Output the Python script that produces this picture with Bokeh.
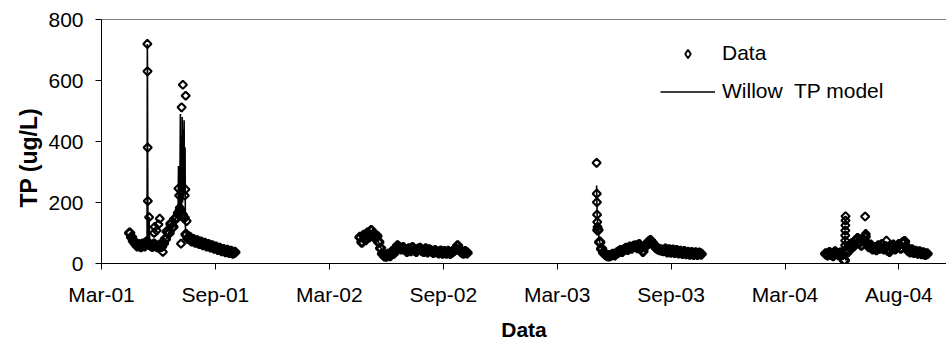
import numpy as np
import pandas as pd
from bokeh.plotting import figure
from bokeh.models import (FixedTicker, DatetimeTickFormatter, Range1d, Span, Title,
                          Legend, LegendItem, ColumnDataSource)
from bokeh.embed import file_html
from bokeh.resources import INLINE

# ---------------- axis settings ----------------
tick_dates = ["2001-03-05", "2001-09-03", "2002-03-04", "2002-09-02",
              "2003-03-03", "2003-09-01", "2004-03-01", "2004-08-30"]
tick_labels = ["Mar-01", "Sep-01", "Mar-02", "Sep-02",
               "Mar-03", "Sep-03", "Mar-04", "Aug-04"]
y_ticks = [0, 200, 400, 600, 800]
x_start, x_end = "2001-03-05", "2004-11-14"
y_start, y_end = 0, 800

# ---------------- measured data (TP, ug/L), sampled every 3 days ----------------
data_2001_start = "2001-04-19"
data_2001 = [100, 86, 74, 66, 58, 62, 55, 64, 58, 70, 66, 60, 56, 64, 58,
             54, 60, 56, 66, 80, 105, 100, 130, 120, 145, 150, 165, 175, 160, 150,
             95, 82, 86, 74, 78, 70, 74, 66, 70, 62, 66, 58, 62, 54, 58,
             50, 54, 46, 50, 42, 46, 39, 43, 36, 40, 34, 37]
data_2002_start = "2002-04-22"
data_2002 = [86, 70, 92, 78, 100, 88, 108, 95, 85, 90, 70, 50, 32, 25, 24,
             30, 26, 38, 34, 50, 58, 52, 48, 52, 46, 40, 48, 42, 52, 44,
             40, 47, 50, 42, 40, 48, 38, 45, 41, 36, 42, 38, 35, 41, 34,
             39, 34, 40, 33, 37, 42, 48, 58, 45, 38, 34, 39, 35]
data_2003_start = "2003-05-07"
data_2003 = [110, 70, 48, 36, 30, 26, 25, 27, 30, 28, 34, 38, 42, 40, 46,
             50, 46, 54, 50, 56, 58, 52, 62, 52, 40, 55, 62, 70, 75, 68,
             60, 52, 48, 45, 44, 42, 47, 38, 45, 37, 44, 36, 42, 35, 40,
             33, 39, 32, 37, 31, 36, 30, 35, 30, 34, 31]
data_2004_start = "2004-05-05"
data_2004 = [32, 28, 36, 30, 26, 38, 33, 28, 35, 30, 10, 35, 40, 55, 65,
             58, 75, 82, 70, 60, 78, 88, 65, 55, 60, 48, 52, 45, 58, 50,
             62, 48, 55, 44, 40, 52, 60, 48, 56, 62, 50, 68, 72, 55, 42,
             38, 45, 36, 40, 34, 38, 32, 35, 30, 32]

# storm-event samples
storm_dates = ["2001-05-17 06:00", "2001-05-17 12:00", "2001-05-17 18:00", "2001-05-18 00:00",
               "2001-05-20 00:00", "2001-05-28 00:00", "2001-05-29 00:00", "2001-06-01 00:00",
               "2001-06-04 00:00", "2001-06-06 00:00", "2001-06-11 00:00", "2001-07-06 00:00",
               "2001-07-07 00:00", "2001-07-08 00:00", "2001-07-10 00:00", "2001-07-11 00:00",
               "2001-07-13 00:00", "2001-07-16 00:00", "2001-07-17 00:00", "2001-07-17 12:00",
               "2001-07-19 00:00",
               "2003-05-05 00:00", "2003-05-05 06:00", "2003-05-05 12:00", "2003-05-05 18:00",
               "2003-05-06 00:00", "2003-05-06 12:00",
               "2004-06-05 00:00", "2004-06-05 03:00", "2004-06-05 06:00", "2004-06-05 09:00",
               "2004-06-05 12:00", "2004-06-05 15:00", "2004-06-05 18:00",
               "2004-07-07 00:00", "2004-07-08 00:00", "2004-08-10 00:00"]
storm_values = [720, 630, 380, 205,
                152, 100, 120, 108,
                128, 147, 38, 246,
                223, 183, 65, 512,
                586, 223, 243, 550,
                139,
                330, 229, 201, 160,
                136, 120,
                60, 75, 92, 108,
                125, 141, 155,
                154, 97, 75]

# ---------------- Willow TP model ----------------
model_2001_dates = ["2001-04-19 00:00", "2001-04-25 00:00", "2001-05-01 00:00", "2001-05-07 00:00",
                    "2001-05-13 00:00", "2001-05-16 18:00", "2001-05-17 06:00", "2001-05-17 12:00",
                    "2001-05-17 18:00", "2001-05-18 00:00", "2001-05-18 12:00", "2001-05-20 00:00",
                    "2001-05-21 00:00", "2001-05-25 00:00", "2001-05-31 00:00", "2001-06-06 00:00",
                    "2001-06-12 00:00", "2001-06-18 00:00", "2001-06-24 00:00", "2001-06-30 00:00",
                    "2001-07-04 00:00", "2001-07-05 12:00", "2001-07-06 00:00", "2001-07-06 12:00",
                    "2001-07-07 12:00", "2001-07-08 00:00", "2001-07-09 00:00", "2001-07-09 12:00",
                    "2001-07-10 12:00", "2001-07-11 00:00", "2001-07-12 00:00", "2001-07-12 12:00",
                    "2001-07-13 12:00", "2001-07-14 00:00", "2001-07-15 00:00", "2001-07-15 12:00",
                    "2001-07-16 12:00", "2001-07-17 00:00", "2001-07-18 00:00",
                    "2001-07-24 00:00", "2001-07-30 00:00",
                    "2001-08-05 00:00", "2001-08-11 00:00", "2001-08-17 00:00", "2001-08-23 00:00",
                    "2001-08-29 00:00", "2001-09-04 00:00", "2001-09-10 00:00", "2001-09-16 00:00",
                    "2001-09-22 00:00", "2001-09-28 00:00", "2001-10-04 00:00"]
model_2001 = [98, 75, 62, 60,
              62, 70, 720, 630,
              380, 205, 70, 152,
              70, 62, 60, 58,
              65, 88, 120, 140,
              160, 200, 320, 140,
              260, 150, 490, 170,
              420, 180, 480, 200,
              440, 220, 470, 240,
              380, 120, 100,
              80, 74,
              70, 66, 62, 58,
              54, 50, 46, 43,
              40, 37, 35]
model_2002_dates = ["2002-04-22", "2002-04-28", "2002-05-04", "2002-05-10", "2002-05-16",
                    "2002-05-22", "2002-05-28", "2002-06-03", "2002-06-09", "2002-06-15",
                    "2002-06-21", "2002-06-27", "2002-07-03", "2002-07-09", "2002-07-15",
                    "2002-07-21", "2002-07-27", "2002-08-02", "2002-08-08", "2002-08-14",
                    "2002-08-20", "2002-08-26", "2002-09-01", "2002-09-07", "2002-09-13",
                    "2002-09-19", "2002-09-25", "2002-10-01", "2002-10-10"]
model_2002 = [85, 88, 98, 105, 88, 68, 38, 26, 32, 42, 56, 50, 50, 47, 48,
              44, 46, 43, 42, 42, 40, 39, 37, 37, 36, 40, 55, 38, 35]
model_2003_dates = ["2003-05-05 00:00", "2003-05-05 12:00", "2003-05-06 00:00", "2003-05-07 00:00",
                    "2003-05-10 00:00", "2003-05-13 00:00", "2003-05-19 00:00", "2003-05-25 00:00",
                    "2003-05-31 00:00", "2003-06-06 00:00", "2003-06-12 00:00", "2003-06-18 00:00",
                    "2003-06-24 00:00", "2003-06-30 00:00", "2003-07-06 00:00", "2003-07-12 00:00",
                    "2003-07-18 00:00", "2003-07-24 00:00", "2003-07-30 00:00", "2003-08-05 00:00",
                    "2003-08-11 00:00", "2003-08-17 00:00", "2003-08-23 00:00", "2003-08-29 00:00",
                    "2003-09-04 00:00", "2003-09-10 00:00", "2003-09-16 00:00", "2003-09-22 00:00",
                    "2003-09-28 00:00", "2003-10-04 00:00", "2003-10-10 00:00", "2003-10-19 00:00"]
model_2003 = [256, 200, 150, 110, 70, 48, 30, 25, 29, 34, 41, 46, 49, 54, 56,
              58, 42, 60, 74, 62, 49, 44, 42, 41, 40, 39, 37, 37, 34, 33, 34, 32]
model_2004_dates = ["2004-05-05", "2004-05-11", "2004-05-17", "2004-05-23", "2004-05-29",
                    "2004-06-03", "2004-06-05", "2004-06-06", "2004-06-10", "2004-06-16",
                    "2004-06-22", "2004-06-28", "2004-07-04", "2004-07-10", "2004-07-16",
                    "2004-07-22", "2004-07-28", "2004-08-03", "2004-08-09", "2004-08-15",
                    "2004-08-21", "2004-08-27", "2004-09-02", "2004-09-08", "2004-09-14",
                    "2004-09-20", "2004-09-26", "2004-10-02", "2004-10-08", "2004-10-14"]
model_2004 = [32, 33, 30, 32, 32, 25, 90, 10, 40, 62, 72, 70, 75, 62, 56,
              50, 52, 55, 50, 44, 55, 54, 56, 68, 45, 42, 38, 36, 33, 32]


def to_dt(strings):
    return pd.to_datetime(pd.Series(strings), format="mixed").to_numpy()


def regular(start, vals):
    return pd.date_range(start, periods=len(vals), freq="3D").to_numpy()


# ---------------- build sources ----------------
band_src = ColumnDataSource(dict(
    x=np.concatenate([regular(data_2001_start, data_2001), regular(data_2002_start, data_2002),
                      regular(data_2003_start, data_2003), regular(data_2004_start, data_2004)]),
    y=np.concatenate([data_2001, data_2002, data_2003, data_2004]).astype(float)))
storm_src = ColumnDataSource(dict(x=to_dt(storm_dates), y=np.asarray(storm_values, dtype=float)))

FONT = "Liberation Sans"

p = figure(width=946, height=352, x_axis_type="datetime", output_backend="svg",
           toolbar_location=None,
           x_range=Range1d(pd.Timestamp(x_start), pd.Timestamp(x_end)),
           y_range=Range1d(y_start, y_end),
           min_border_left=101, min_border_right=0, min_border_top=19, min_border_bottom=89)
p.outline_line_color = None
p.grid.visible = False
p.background_fill_color = "white"
p.border_fill_color = "white"

# densely overlapping routine samples form a solid band
r_band = p.scatter("x", "y", source=band_src, marker="square", angle=np.pi / 4, size=6.4,
                   fill_color=None, line_color="black", line_width=3.0)
# storm samples: isolated open diamonds
r_storm = p.scatter("x", "y", source=storm_src, marker="square", angle=np.pi / 4, size=5.8,
                    fill_color=None, line_color="black", line_width=2.1)

# legend key for the data series (hidden renderer; legend keeps its glyph)
r_key = p.scatter("x", "y", source=storm_src, marker="diamond", fill_color=None,
                  line_color="black", line_width=1.8, visible=False)

model_renderers = []
for ds, vs in [(model_2001_dates, model_2001), (model_2002_dates, model_2002),
               (model_2003_dates, model_2003), (model_2004_dates, model_2004)]:
    src = ColumnDataSource(dict(x=to_dt(ds), y=np.asarray(vs, dtype=float)))
    r = p.line("x", "y", source=src, line_color="black", line_width=1.6)
    model_renderers.append(r)

# top border of plot area
p.add_layout(Span(location=y_end, dimension="width", line_color="black", line_width=1))

# x axis
tick_ms = [pd.Timestamp(t).value / 1e6 for t in tick_dates]
xa = p.xaxis[0]
xa.ticker = FixedTicker(ticks=tick_ms)
fmt = "%b-%y"
xa.formatter = DatetimeTickFormatter(milliseconds=fmt, seconds=fmt, minsec=fmt, minutes=fmt,
                                     hourmin=fmt, hours=fmt, days=fmt, months=fmt, years=fmt)
xa.major_label_overrides = {ms: lab for ms, lab in zip(tick_ms, tick_labels)}
xa.minor_tick_line_color = None
xa.major_tick_out = 6
xa.major_tick_in = 0
xa.major_label_standoff = 13
xa.major_label_text_font = FONT
xa.major_label_text_font_size = "21px"
xa.major_label_text_color = "black"
xa.axis_line_color = "black"
xa.major_tick_line_color = "black"
xa.axis_label = "Data"
xa.axis_label_text_font = FONT
xa.axis_label_text_font_style = "bold"
xa.axis_label_text_font_size = "21px"
xa.axis_label_text_color = "black"
xa.axis_label_standoff = 9

# y axis
ya = p.yaxis[0]
ya.ticker = FixedTicker(ticks=y_ticks)
ya.minor_tick_line_color = None
ya.major_tick_out = 6
ya.major_tick_in = 0
ya.major_label_standoff = 12
ya.major_label_text_font = FONT
ya.major_label_text_font_size = "21px"
ya.major_label_text_color = "black"
ya.axis_line_color = "black"
ya.major_tick_line_color = "black"

# y axis title (placed a little below the middle, as in the original)
y_title = Title(text="TP (ug/L)", align="left", offset=56, standoff=8,
                text_font=FONT, text_font_style="bold", text_font_size="23px",
                text_color="black")
p.add_layout(y_title, "left")

legend = Legend(items=[LegendItem(label="Data", renderers=[r_key]),
                       LegendItem(label="Willow  TP model", renderers=[model_renderers[0]])],
                location=(559, 160))
legend.glyph_width = 55
legend.glyph_height = 21
legend.label_height = 21
legend.spacing = 14
legend.padding = 0
legend.margin = 0
legend.label_standoff = 7
legend.border_line_color = None
legend.background_fill_alpha = 0
legend.inactive_fill_alpha = 0
legend.label_text_font = FONT
legend.label_text_font_size = "21px"
legend.label_text_color = "black"
p.add_layout(legend)

open("out.html", "w").write(file_html(p, INLINE))
